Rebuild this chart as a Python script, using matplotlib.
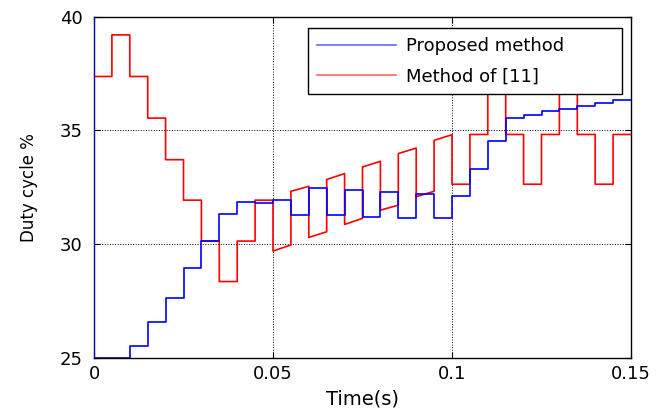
import numpy as np
import matplotlib
matplotlib.use("Agg")
import matplotlib.pyplot as plt
from matplotlib.lines import Line2D

plt.rcParams['font.family'] = ['DejaVu Sans']

# ---- data ----
# interval edges (s)
edges = [0.0, 0.005, 0.01, 0.015, 0.02, 0.025, 0.03, 0.035, 0.04, 0.045, 0.05,
         0.055, 0.06, 0.065, 0.07, 0.075, 0.08, 0.085, 0.09, 0.095, 0.1,
         0.105, 0.11, 0.115, 0.12, 0.125, 0.13, 0.135, 0.14, 0.145, 0.15]

# Proposed method (value held over each interval)
blue_initial = 50.0
blue_vals = [25.0, 25.0, 25.50, 26.55, 27.64, 28.93, 30.13, 31.30, 31.83, 31.80,
             31.93, 31.27, 32.47, 31.27, 32.37, 31.20, 32.30, 31.15, 32.18, 31.13,
             32.10, 33.32, 34.53, 35.54, 35.66, 35.83, 35.95, 36.07, 36.20, 36.35]

# Method of [11]: value at start and end of each interval
red_start = [37.37, 39.20, 37.37, 35.54, 33.71, 31.93, 30.13, 28.35, 30.13, 31.93,
             29.69, 32.32, 30.29, 32.84, 30.86, 33.39, 31.49, 33.98, 32.08, 34.56,
             32.63, 34.82, 37.00, 34.82, 32.63, 34.82, 37.00, 34.82, 32.63, 34.82]
red_end = [37.37, 39.20, 37.37, 35.54, 33.71, 31.93, 30.13, 28.35, 30.13, 31.93,
           29.96, 32.54, 30.54, 33.10, 31.13, 33.64, 31.71, 34.22, 32.32, 34.81,
           32.63, 34.82, 37.00, 34.82, 32.63, 34.82, 37.00, 34.82, 32.63, 34.82]

xticks = [0, 0.05, 0.1, 0.15]
xticklabels = ['0', '0.05', '0.1', '0.15']
yticks = [25, 30, 35, 40]

# ---- build polylines ----
bx = [edges[0]]
by = [blue_initial]
for i, v in enumerate(blue_vals):
    bx += [edges[i], edges[i + 1]]
    by += [v, v]

rx, ry = [], []
for i in range(len(red_start)):
    rx += [edges[i], edges[i + 1]]
    ry += [red_start[i], red_end[i]]

fig = plt.figure(figsize=(6.72, 4.18), dpi=100)
ax = fig.add_axes([94 / 672, 1 - 357.7 / 418, 537 / 672, 341 / 418])

ax.plot(rx, ry, color='#ff0000', lw=1.2, zorder=3)
ax.plot(bx, by, color='#0000ff', lw=1.2, zorder=4)

ax.set_xlim(0, 0.15)
ax.set_ylim(25, 40)
ax.set_xticks(xticks)
ax.set_xticklabels(xticklabels)
ax.set_yticks(yticks)
ax.tick_params(direction='in', length=4, width=0.8, top=True, right=True,
               labelsize=13, colors='black')
ax.tick_params(axis='x', pad=5)
ax.tick_params(axis='y', pad=8)
ax.grid(True, color='black', linestyle=':', linewidth=0.7)
for s in ax.spines.values():
    s.set_linewidth(1.0)
    s.set_color('black')

ax.set_xlabel('Time(s)', fontsize=14, labelpad=5)
ax.set_ylabel('Duty cycle %', fontsize=12, labelpad=16)

handles = [Line2D([], [], color='#0000ff', lw=1.2, alpha=0.6),
           Line2D([], [], color='#ff0000', lw=1.2, alpha=0.6)]
x0 = (308 - 94) / 537
x1 = (622 - 94) / 537
y1 = (357.7 - 28) / 341
y0 = (357.7 - 92) / 341
leg = ax.legend(handles, ['Proposed method', 'Method of [11]'],
                bbox_to_anchor=(x0, y0, x1 - x0, y1 - y0), loc='upper left',
                mode='expand', fancybox=False, framealpha=1, edgecolor='black',
                fontsize=13, handlelength=4.37, handletextpad=0.55,
                borderpad=0.5, labelspacing=0.68, borderaxespad=0)
leg.get_frame().set_linewidth(1.0)
leg.set_zorder(10)

fig.savefig('out.png', dpi=100)
